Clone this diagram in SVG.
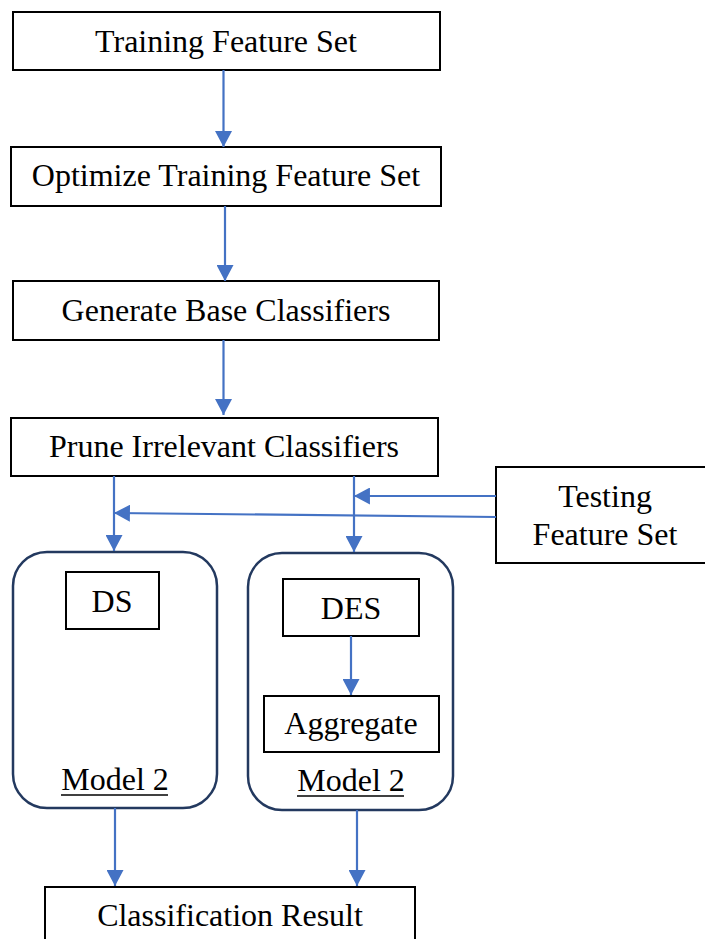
<svg xmlns="http://www.w3.org/2000/svg" width="705" height="939" viewBox="0 0 705 939">
  <style>
    .box { fill: #ffffff; stroke: #000000; stroke-width: 2; }
    .model { fill: #ffffff; stroke: #23395f; stroke-width: 2.5; }
    .lbl { font-family: "Liberation Serif", "Times New Roman", serif; font-size: 32px; fill: #000000; text-anchor: middle; }
    .edge { fill: none; stroke: #4472c4; stroke-width: 2.2; }
  </style>
  <defs>
    <marker id="arrow" markerUnits="userSpaceOnUse" markerWidth="17" markerHeight="17" viewBox="0 0 16 16" refX="15" refY="8" orient="auto">
      <path d="M0,0 L15,8 L0,16 Z" fill="#4472c4"/>
    </marker>
  </defs>

  <rect width="705" height="939" fill="#ffffff"/>

  <g id="training-feature-set">
    <rect class="box" x="13" y="12" width="427" height="58"/>
    <text class="lbl" x="226" y="52">Training Feature Set</text>
  </g>

  <g id="optimize-training-feature-set">
    <rect class="box" x="11" y="147" width="430" height="59"/>
    <text class="lbl" x="226" y="186">Optimize Training Feature Set</text>
  </g>

  <g id="generate-base-classifiers">
    <rect class="box" x="13" y="281" width="426" height="59"/>
    <text class="lbl" x="226" y="321">Generate Base Classifiers</text>
  </g>

  <g id="prune-irrelevant-classifiers">
    <rect class="box" x="11" y="418" width="427" height="58"/>
    <text class="lbl" x="224" y="457">Prune Irrelevant Classifiers</text>
  </g>

  <g id="testing-feature-set">
    <rect class="box" x="496" y="467" width="212" height="96"/>
    <text class="lbl" x="605" y="507">Testing</text>
    <text class="lbl" x="605" y="545">Feature Set</text>
  </g>

  <g id="model-ds">
    <rect class="model" x="13" y="552" width="204" height="256" rx="34" ry="34"/>
    <rect class="box" x="66" y="572" width="93" height="57"/>
    <text class="lbl" x="112" y="612">DS</text>
    <text class="lbl" x="115" y="790">Model 2</text>
    <line x1="61" y1="795" x2="168" y2="795" stroke="#000000" stroke-width="1.6"/>
  </g>

  <g id="model-des">
    <rect class="model" x="248" y="553" width="205" height="257" rx="34" ry="34"/>
    <rect class="box" x="283" y="579" width="136" height="57"/>
    <text class="lbl" x="351" y="619">DES</text>
    <rect class="box" x="264" y="696" width="175" height="56"/>
    <text class="lbl" x="351" y="734">Aggregate</text>
    <text class="lbl" x="351" y="791">Model 2</text>
    <line x1="297" y1="796" x2="404" y2="796" stroke="#000000" stroke-width="1.6"/>
  </g>

  <g id="classification-result">
    <rect class="box" x="45" y="887" width="370" height="70"/>
    <text class="lbl" x="230" y="926">Classification Result</text>
  </g>

  <g id="connectors">
    <line class="edge" x1="223.5" y1="70" x2="223.5" y2="147" marker-end="url(#arrow)"/>
    <line class="edge" x1="225" y1="206" x2="225" y2="281" marker-end="url(#arrow)"/>
    <line class="edge" x1="223.5" y1="340" x2="223.5" y2="415" marker-end="url(#arrow)"/>
    <line class="edge" x1="114" y1="476" x2="114" y2="551" marker-end="url(#arrow)"/>
    <line class="edge" x1="354" y1="476" x2="354" y2="552" marker-end="url(#arrow)"/>
    <line class="edge" x1="496" y1="496" x2="354" y2="496" marker-end="url(#arrow)"/>
    <line class="edge" x1="496" y1="517" x2="114" y2="513" marker-end="url(#arrow)"/>
    <line class="edge" x1="351" y1="636" x2="351" y2="695" marker-end="url(#arrow)"/>
    <line class="edge" x1="115" y1="808" x2="115" y2="886" marker-end="url(#arrow)"/>
    <line class="edge" x1="357" y1="810" x2="357" y2="886" marker-end="url(#arrow)"/>
  </g>
</svg>
